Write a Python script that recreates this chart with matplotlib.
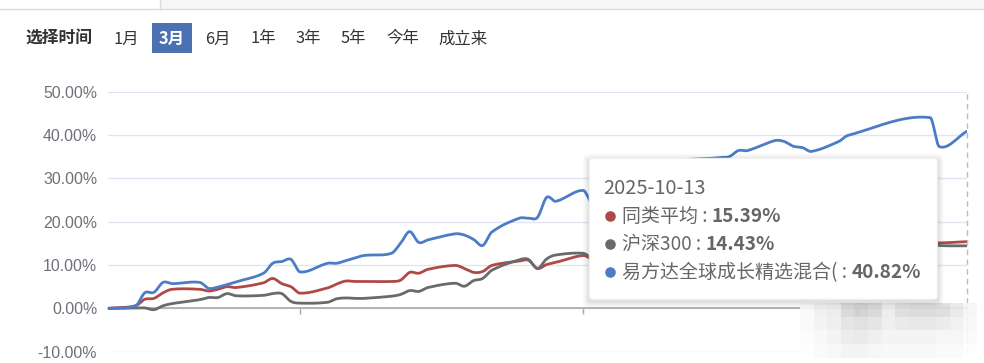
"""
Fund return comparison chart (3-month view) with tooltip overlay.
"""

import matplotlib

matplotlib.use("Agg")
import matplotlib.dates as mdates
import matplotlib.pyplot as plt
import numpy as np
import pandas as pd
from matplotlib.patches import Ellipse, FancyBboxPatch, Rectangle

plt.rcParams["font.family"] = ["Noto Sans CJK SC", "DejaVu Sans"]

W, H = 984, 363

# ---- data (cumulative return, %) ----
trade_dates = [
    "2025-07-11", "2025-07-14", "2025-07-15", "2025-07-16", "2025-07-17", "2025-07-18",
    "2025-07-21", "2025-07-22", "2025-07-23", "2025-07-24", "2025-07-25",
    "2025-07-28", "2025-07-29", "2025-07-30", "2025-07-31", "2025-08-01",
    "2025-08-04", "2025-08-05", "2025-08-06", "2025-08-07", "2025-08-08",
    "2025-08-11", "2025-08-12", "2025-08-13", "2025-08-14", "2025-08-15",
    "2025-08-18", "2025-08-19", "2025-08-20", "2025-08-21", "2025-08-22",
    "2025-08-25", "2025-08-26", "2025-08-27", "2025-08-28", "2025-08-29",
    "2025-09-01", "2025-09-02", "2025-09-03", "2025-09-04", "2025-09-05",
    "2025-09-08", "2025-09-09", "2025-09-10", "2025-09-11", "2025-09-12",
    "2025-09-15", "2025-09-16", "2025-09-17", "2025-09-18", "2025-09-19",
    "2025-09-22", "2025-09-23", "2025-09-24", "2025-09-25", "2025-09-26",
    "2025-09-29", "2025-09-30", "2025-10-09", "2025-10-10", "2025-10-13",
]
peer_avg = [
    0.0, 0.6, 2.1, 2.3, 3.6, 4.4,
    4.4, 4.0, 4.4, 5.0, 4.8,
    5.9, 6.9, 5.7, 5.0, 3.5,
    4.7, 5.6, 6.3, 6.2, 6.2,
    6.2, 6.5, 8.3, 8.1, 9.0,
    9.9, 9.2, 8.3, 8.5, 9.9,
    10.9, 11.1, 9.2, 10.1, 10.6,
    12.2, 11.4, 12.0, 12.3, 12.6,
    13.0, 13.2, 13.0, 13.4, 13.8,
    14.0, 14.1, 14.3, 13.8, 14.0,
    14.3, 14.1, 14.4, 14.6, 14.5,
    14.8, 15.0, 15.3, 15.1, 15.39,
]
csi300 = [
    0.0, 0.1, 0.1, -0.3, 0.6, 1.1,
    2.0, 2.5, 2.5, 3.4, 2.9,
    3.0, 3.4, 3.4, 1.6, 1.2,
    1.4, 2.2, 2.4, 2.3, 2.3,
    2.8, 3.2, 4.1, 3.9, 4.8,
    5.8, 5.1, 6.4, 6.9, 8.8,
    11.2, 11.3, 9.2, 11.4, 12.3,
    12.7, 11.7, 12.2, 12.0, 12.5,
    12.8, 12.9, 12.7, 13.6, 13.6,
    13.8, 13.9, 13.7, 12.9, 13.0,
    13.3, 13.2, 14.2, 14.2, 13.6,
    14.4, 14.8, 15.0, 14.5, 14.43,
]
fund = [
    0.0, 0.6, 3.6, 3.7, 6.0, 5.7,
    6.0, 4.6, 4.9, 5.5, 6.1,
    8.1, 10.4, 10.8, 11.3, 8.4,
    10.4, 10.4, 11.0, 11.6, 12.2,
    12.7, 15.0, 17.7, 15.2, 15.8,
    17.2, 16.9, 15.9, 14.5, 17.6,
    20.8, 20.8, 21.0, 25.6, 24.7,
    27.2, 24.4, 27.0, 29.0, 30.5,
    32.5, 33.0, 33.5, 34.0, 34.3,
    34.6, 34.8, 35.0, 36.4, 36.4,
    38.7, 38.5, 37.4, 37.1, 36.2,
    38.5, 39.9, 44.0, 37.3, 40.82,
]

series_names = ["同类平均", "沪深300", "易方达全球成长精选混合("]
series_colors = ["#b04848", "#6a6a6a", "#4c7cc6"]
tooltip_date = "2025-10-13"

period_tabs = ["1月", "3月", "6月", "1年", "3年", "5年", "今年", "成立来"]
active_tab = "3月"


def fx(px):
    return px / W


def fy(py):
    return 1 - py / H


def smooth_curve(x, y, n=14):
    """Cubic Hermite curve through the points (echarts-like smooth line)."""
    x = np.asarray(x, float)
    y = np.asarray(y, float)
    m = np.empty_like(y)
    m[1:-1] = (y[2:] - y[:-2]) / (x[2:] - x[:-2])
    m[0] = (y[1] - y[0]) / (x[1] - x[0])
    m[-1] = (y[-1] - y[-2]) / (x[-1] - x[-2])
    t = np.linspace(0, 1, n, endpoint=False)
    h00 = 2 * t**3 - 3 * t**2 + 1
    h10 = t**3 - 2 * t**2 + t
    h01 = -2 * t**3 + 3 * t**2
    h11 = t**3 - t**2
    xs, ys = [], []
    for i in range(len(x) - 1):
        h = x[i + 1] - x[i]
        xs.append(x[i] + t * h)
        ys.append(h00 * y[i] + h10 * h * m[i] + h01 * y[i + 1] + h11 * h * m[i + 1])
    xs.append([x[-1]])
    ys.append([y[-1]])
    return np.concatenate(xs), np.concatenate(ys)


dates = pd.to_datetime(trade_dates)
xnum = mdates.date2num(dates)

fig = plt.figure(figsize=(W / 100, H / 100), dpi=100)
fig.patch.set_facecolor("white")

# ---- top strip / period selector ----
fig.patches.append(Rectangle((fx(160), fy(9)), 1 - fx(160), 9 / H,
                             transform=fig.transFigure, facecolor="#f6f6f8",
                             edgecolor="none", zorder=0))
fig.add_artist(plt.Line2D([0, 1], [fy(9.3), fy(9.3)], color="#dcdcdc", lw=1))
fig.add_artist(plt.Line2D([fx(160.3), fx(160.3)], [fy(0), fy(9.3)], color="#dcdcdc", lw=1))

fig.text(fx(25.5), fy(39), "选择时间", fontsize=12.1, fontweight="bold",
         color="#333333", va="center", ha="left")
tab_centers = [126, 172, 217.5, 263, 308.5, 353.5, 402.5, 462.5]
for label, cx in zip(period_tabs, tab_centers):
    if label == active_tab:
        fig.patches.append(Rectangle((fx(152), fy(52.7)), fx(40), 29.7 / H,
                                     transform=fig.transFigure, facecolor="#4a72b2",
                                     edgecolor="none"))
        fig.text(fx(cx), fy(39), label, fontsize=11.8, fontweight="bold",
                 color="white", va="center", ha="center")
    else:
        fig.text(fx(cx), fy(39), label, fontsize=11.8, color="#333333",
                 va="center", ha="center")

# ---- main chart ----
ax = fig.add_axes([fx(108.3), fy(351.7), (966.7 - 108.3) / W, (351.7 - 91.6) / H])
ax.set_facecolor("none")

for vals, color in zip([peer_avg, csi300, fund], series_colors):
    sx, sy = smooth_curve(xnum, vals)
    ax.plot(sx, sy, color=color, lw=2.0, solid_capstyle="round", zorder=3)

ax.set_xlim(mdates.date2num(pd.Timestamp("2025-07-11")), xnum[-1])
ax.set_ylim(-10, 50)
yticks = np.arange(-10, 51, 10)
ax.set_yticks(yticks)
ax.set_yticklabels([f"{v:.2f}%" for v in yticks], family="Liberation Sans",
                   fontsize=11.4, color="#6e7079")
ax.tick_params(axis="y", length=0, pad=8)
ax.grid(True, axis="y", color="#e0e6f1", lw=1)
ax.set_axisbelow(True)

ax.xaxis.set_major_locator(mdates.MonthLocator())
ax.tick_params(axis="x", length=4, width=1, color="#a8a8a8", labelbottom=False)
for side in ["top", "right", "left"]:
    ax.spines[side].set_visible(False)
ax.spines["bottom"].set_position(("data", 0))
ax.spines["bottom"].set_color("#a8a8a8")
ax.spines["bottom"].set_linewidth(1.2)
ax.spines["bottom"].set_zorder(2)

# axis pointer on the hovered date
ax.axvline(xnum[-1], color="#b8bcc8", lw=1, ls=(0, (4, 3)), zorder=4, clip_on=False)

# ---- blurred watermark (bottom right) ----
mosaic = np.array([
    [250, 240, 236, 214, 206, 214, 236, 220, 216, 216, 220, 232, 246],
    [250, 242, 238, 226, 222, 228, 238, 232, 230, 230, 234, 240, 248],
    [252, 248, 244, 234, 232, 238, 244, 244, 244, 244, 246, 246, 250],
    [254, 250, 248, 244, 244, 246, 248, 248, 248, 248, 250, 250, 254],
]) / 255.0
wax = fig.add_axes([fx(800), fy(358), 177 / W, 55 / H], zorder=6)
wax.imshow(mosaic, cmap="gray", vmin=0, vmax=1, aspect="auto",
           interpolation="nearest", alpha=0.9)
wax.axis("off")

# ---- tooltip ----
tx0, ty0, tx1, ty1 = 589.3, 158.3, 937.3, 299.3
for k, a in enumerate([0.05, 0.04, 0.03]):
    grow = 2 + 2 * k
    fig.patches.append(FancyBboxPatch(
        (fx(tx0 - grow), fy(ty1 + grow + 2)), (tx1 - tx0 + 2 * grow) / W,
        (ty1 - ty0 + 2 * grow) / H, boxstyle="round,pad=0,rounding_size=0.008",
        transform=fig.transFigure, facecolor="black", edgecolor="none",
        alpha=a, zorder=9))
fig.patches.append(FancyBboxPatch(
    (fx(tx0), fy(ty1)), (tx1 - tx0) / W, (ty1 - ty0) / H,
    boxstyle="round,pad=0,rounding_size=0.006", transform=fig.transFigure,
    facecolor="white", edgecolor="#f0f0f0", lw=0.8, zorder=10))

fig.text(fx(603), fy(188), tooltip_date, fontsize=14.4, color="#666666",
         va="center", ha="left", zorder=11)

renderer = fig.canvas.get_renderer()
row_y = [216.5, 244.5, 272.5]
last_vals = [peer_avg[-1], csi300[-1], fund[-1]]
for name, color, val, ry in zip(series_names, series_colors, last_vals, row_y):
    fig.patches.append(Ellipse((fx(610.5), fy(ry)), 10.6 / W, 10.6 / H,
                               transform=fig.transFigure, facecolor=color,
                               edgecolor="none", zorder=11))
    t = fig.text(fx(622), fy(ry), f"{name} : ", fontsize=13.7, color="#666666",
                 va="center", ha="left", zorder=11)
    bb = t.get_window_extent(renderer)
    fig.text(bb.x1 / W, fy(ry), f"{val:.2f}%", fontsize=13.7, fontweight="bold",
             color="#666666", va="center", ha="left", zorder=11)

plt.savefig("out.png", dpi=100, facecolor=fig.get_facecolor())
